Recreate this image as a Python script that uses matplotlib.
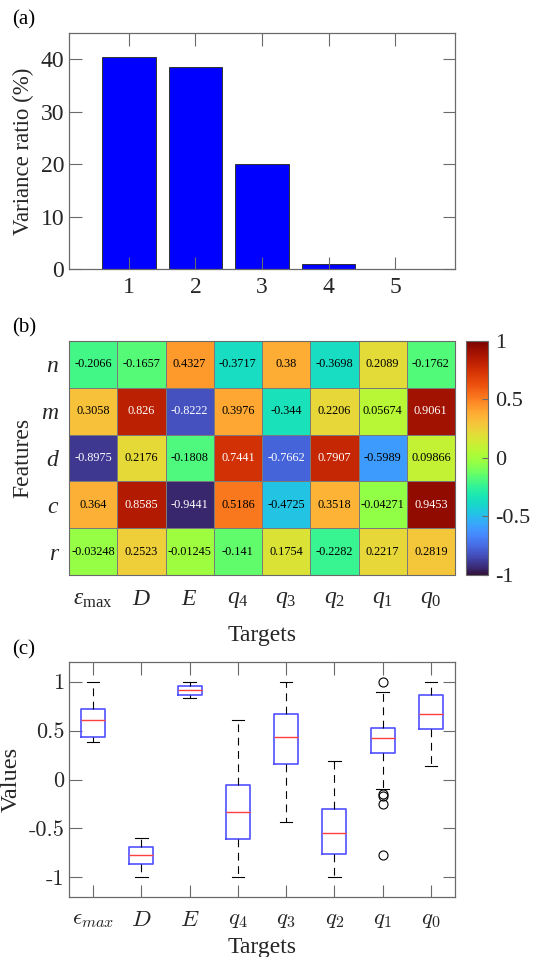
import numpy as np
import matplotlib
matplotlib.use("Agg")
import matplotlib.pyplot as plt

plt.rcParams['font.family'] = ['Liberation Serif', 'DejaVu Serif']
plt.rcParams['mathtext.fontset'] = 'custom'
plt.rcParams['mathtext.rm'] = 'Liberation Serif'
plt.rcParams['mathtext.it'] = 'Liberation Serif:italic'
plt.rcParams['mathtext.fallback'] = 'cm'

# ---- data ----
components = [1, 2, 3, 4, 5]
variance_ratio = [40.5, 38.6, 20.0, 0.9, 0.05]

features = ['n', 'm', 'd', 'c', 'r']
targets_b = [r'$\epsilon_{\rm max}$', '$D$', '$E$', r'$q_{\mathit{4}}$', r'$q_{\mathit{3}}$',
             r'$q_{\mathit{2}}$', r'$q_{\mathit{1}}$', r'$q_{\mathit{0}}$']
corr = [
    [-0.2066, -0.1657, 0.4327, -0.3717, 0.38, -0.3698, 0.2089, -0.1762],
    [0.3058, 0.826, -0.8222, 0.3976, -0.344, 0.2206, 0.05674, 0.9061],
    [-0.8975, 0.2176, -0.1808, 0.7441, -0.7662, 0.7907, -0.5989, 0.09866],
    [0.364, 0.8585, -0.9441, 0.5186, -0.4725, 0.3518, -0.04271, 0.9453],
    [-0.03248, 0.2523, -0.01245, -0.141, 0.1754, -0.2282, 0.2217, 0.2819],
]

targets_c = [r'$\epsilon_{max}$', '$D$', '$E$', '$q_4$', '$q_3$', '$q_2$', '$q_1$', '$q_0$']
box_whislo = [0.38, -1.0, 0.833, -1.0, -0.43, -1.0, -0.10, 0.136]
box_q1 = [0.43, -0.86, 0.867, -0.61, 0.163, -0.76, 0.272, 0.52]
box_med = [0.605, -0.77, 0.915, -0.333, 0.43, -0.55, 0.425, 0.667]
box_q3 = [0.72, -0.69, 0.95, -0.06, 0.667, -0.30, 0.527, 0.864]
box_whishi = [1.0, -0.60, 1.0, 0.61, 1.0, 0.19, 0.895, 1.0]
box_fliers = [[], [], [], [], [], [], [1.0, -0.143, -0.17, -0.25, -0.77], []]

W, H = 533, 957
fig = plt.figure(figsize=(W / 100, H / 100), dpi=100)
txt = '#262626'
spine = '#6a6a6a'


def px_axes(left, top, right, bottom):
    return fig.add_axes([left / W, 1 - bottom / H, (right - left) / W, (bottom - top) / H])


def style_box(ax, size):
    for s in ax.spines.values():
        s.set_color(spine)
        s.set_linewidth(0.9)
    ax.tick_params(direction='in', length=9, width=0.8, color=spine,
                   top=True, right=True, labelcolor=txt, labelsize=size)


# ---- (a) variance ratio ----
ax_a = px_axes(69, 33, 455, 269)
ax_a.bar(components, variance_ratio, width=0.8, color='#0000ff', edgecolor='#333333', linewidth=0.7)
ax_a.set_xlim(0.1, 5.9)
ax_a.set_ylim(0, 45)
ax_a.set_xticks(components)
ax_a.set_yticks([0, 10, 20, 30, 40])
style_box(ax_a, 17)
ax_a.tick_params(axis='x', pad=6)
ax_a.set_ylabel('Variance ratio (%)', fontsize=16.5, color=txt)
ax_a.yaxis.set_label_coords(-0.09, 0.5)

# ---- (b) correlation heatmap ----
ax_b = px_axes(69, 341, 455, 575)
data = np.array(corr)
mesh = ax_b.pcolormesh(data, cmap='turbo', vmin=-1, vmax=1, edgecolors='#7a7a7a', linewidth=0.7)
ax_b.set_ylim(len(features), 0)
for i in range(data.shape[0]):
    for j in range(data.shape[1]):
        v = data[i, j]
        ax_b.text(j + 0.5, i + 0.5, '{:.4g}'.format(v), ha='center', va='center',
                  fontsize=8.8, color='white' if abs(v) > 0.7 else 'black')
ax_b.set_xticks(np.arange(len(targets_b)) + 0.5)
ax_b.set_xticklabels(targets_b)
ax_b.set_yticks(np.arange(len(features)) + 0.5)
ax_b.set_yticklabels(features, fontstyle='italic')
ax_b.tick_params(length=0, labelsize=17, labelcolor=txt, pad=8)
ax_b.tick_params(axis='x', pad=10)
for s in ax_b.spines.values():
    s.set_color(spine)
ax_b.set_ylabel('Features', fontsize=17, color=txt)
ax_b.yaxis.set_label_coords(-0.093, 0.5)
ax_b.set_xlabel('Targets', fontsize=17, color=txt)
ax_b.xaxis.set_label_coords(0.5, -0.214)

cax = px_axes(466, 341, 488, 575)
cb = fig.colorbar(mesh, cax=cax)
cb.set_ticks([1, 0.5, 0, -0.5, -1])
cb.set_ticklabels(['1', '0.5', '0', '-0.5', '-1'])
cb.outline.set_edgecolor(spine)
cax.tick_params(direction='in', length=4, color=spine, labelsize=16, labelcolor=txt, pad=5)

# ---- (c) boxplots ----
ax_c = px_axes(69, 662, 455, 897)
stats = []
for k in range(len(targets_c)):
    stats.append(dict(med=box_med[k], q1=box_q1[k], q3=box_q3[k],
                      whislo=box_whislo[k], whishi=box_whishi[k], fliers=box_fliers[k]))
ax_c.bxp(stats, positions=range(1, 9), widths=0.5, showfliers=True, patch_artist=False,
         boxprops=dict(color='#5050ff', linewidth=1.2),
         medianprops=dict(color='#ff4040', linewidth=1.0),
         whiskerprops=dict(color='black', linewidth=0.8, linestyle=(0, (7, 5))),
         capprops=dict(color='black', linewidth=0.8),
         capwidths=0.26,
         flierprops=dict(marker='o', markerfacecolor='none', markeredgecolor='black',
                         markersize=6.5, markeredgewidth=0.8))
ax_c.set_xlim(0.5, 8.5)
ax_c.set_ylim(-1.2, 1.2)
ax_c.set_yticks([-1, -0.5, 0, 0.5, 1])
ax_c.set_yticklabels(['-1', '-0.5', '0', '0.5', '1'], fontfamily='cmr10')
ax_c.set_xticks(range(1, 9))
ax_c.set_xticklabels(targets_c)
style_box(ax_c, 16)
for lab in ax_c.get_xticklabels():
    lab.set_math_fontfamily('cm')
    lab.set_fontsize(16.5)
ax_c.tick_params(axis='x', pad=9)
ax_c.set_ylabel('Values', fontsize=17.5, color=txt)
ax_c.yaxis.set_label_coords(-0.122, 0.5)
ax_c.set_xlabel('Targets', fontsize=17, color=txt)
ax_c.xaxis.set_label_coords(0.5, -0.172)

fig.text(12 / W, 1 - 20 / H, '(a)', fontsize=15, color='black', va='center')
fig.text(12 / W, 1 - 328 / H, '(b)', fontsize=15, color='black', va='center')
fig.text(12 / W, 1 - 650 / H, '(c)', fontsize=15, color='black', va='center')

fig.savefig('out.png', dpi=100)
